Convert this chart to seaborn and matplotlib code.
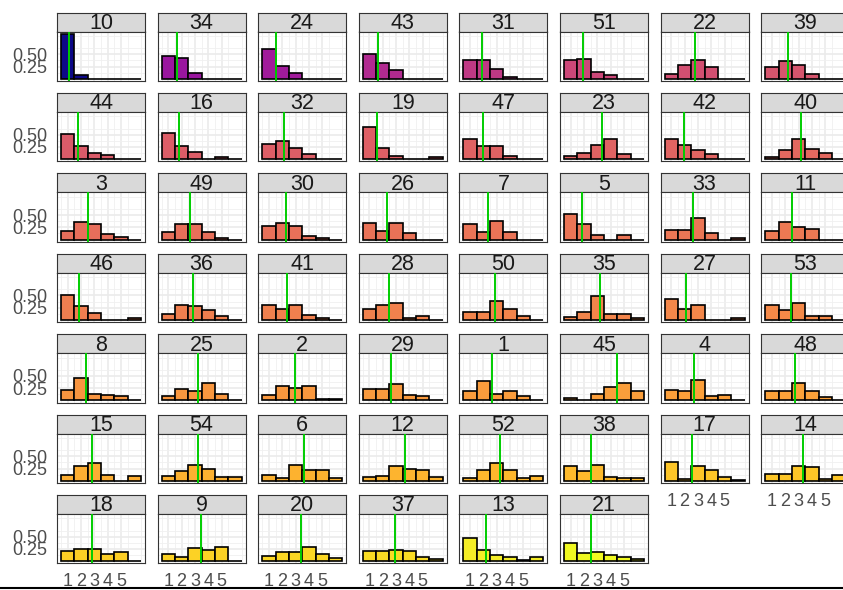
import numpy as np
import pandas as pd
import matplotlib
matplotlib.use("Agg")
import matplotlib.pyplot as plt
from matplotlib.lines import Line2D
import seaborn as sns

# Response levels and axis ticks
levels = [1, 2, 3, 4, 5, 6]
x_ticks = [1, 2, 3, 4, 5]
y_ticks = [0.25, 0.50]
y_tick_labels = ["0.25", "0.50"]

# Facet labels in display order
groups = [
    "10", "34", "24", "43", "31", "51", "22", "39",
    "44", "16", "32", "19", "47", "23", "42", "40",
    "3", "49", "30", "26", "7", "5", "33", "11",
    "46", "36", "41", "28", "50", "35", "27", "53",
    "8", "25", "2", "29", "1", "45", "4", "48",
    "15", "54", "6", "12", "52", "38", "17", "14",
    "18", "9", "20", "37", "13", "21",
]

# Share of responses at each level, per group
shares = [
    [0.92, 0.08, 0.00, 0.00, 0.00, 0.00],
    [0.46, 0.43, 0.11, 0.00, 0.00, 0.00],
    [0.61, 0.27, 0.12, 0.00, 0.00, 0.00],
    [0.50, 0.33, 0.17, 0.00, 0.00, 0.00],
    [0.39, 0.38, 0.19, 0.04, 0.00, 0.00],
    [0.38, 0.41, 0.13, 0.08, 0.00, 0.00],
    [0.09, 0.29, 0.38, 0.24, 0.00, 0.00],
    [0.25, 0.37, 0.29, 0.09, 0.00, 0.00],

    [0.52, 0.26, 0.13, 0.09, 0.00, 0.00],
    [0.53, 0.27, 0.15, 0.00, 0.05, 0.00],
    [0.30, 0.38, 0.22, 0.10, 0.00, 0.00],
    [0.66, 0.23, 0.07, 0.00, 0.00, 0.04],
    [0.41, 0.26, 0.26, 0.07, 0.00, 0.00],
    [0.06, 0.13, 0.29, 0.42, 0.10, 0.00],
    [0.42, 0.29, 0.19, 0.10, 0.00, 0.00],
    [0.05, 0.18, 0.42, 0.21, 0.13, 0.01],

    [0.18, 0.35, 0.31, 0.11, 0.05, 0.00],
    [0.16, 0.32, 0.32, 0.16, 0.04, 0.00],
    [0.27, 0.34, 0.27, 0.08, 0.04, 0.00],
    [0.34, 0.18, 0.34, 0.14, 0.00, 0.00],
    [0.32, 0.16, 0.37, 0.15, 0.00, 0.00],
    [0.52, 0.31, 0.085, 0.00, 0.085, 0.00],
    [0.19, 0.19, 0.45, 0.14, 0.00, 0.03],
    [0.18, 0.36, 0.25, 0.21, 0.00, 0.00],

    [0.51, 0.29, 0.15, 0.00, 0.00, 0.05],
    [0.12, 0.31, 0.28, 0.21, 0.08, 0.00],
    [0.31, 0.22, 0.31, 0.11, 0.05, 0.00],
    [0.22, 0.30, 0.34, 0.05, 0.09, 0.00],
    [0.16, 0.16, 0.38, 0.22, 0.08, 0.00],
    [0.07, 0.16, 0.49, 0.12, 0.12, 0.04],
    [0.42, 0.22, 0.31, 0.00, 0.00, 0.05],
    [0.30, 0.21, 0.34, 0.075, 0.075, 0.00],

    [0.21, 0.46, 0.14, 0.10, 0.08, 0.01],
    [0.08, 0.24, 0.20, 0.35, 0.13, 0.00],
    [0.10, 0.29, 0.25, 0.29, 0.035, 0.035],
    [0.23, 0.23, 0.34, 0.115, 0.085, 0.00],
    [0.19, 0.39, 0.14, 0.19, 0.08, 0.01],
    [0.05, 0.00, 0.14, 0.27, 0.35, 0.19],
    [0.21, 0.19, 0.42, 0.08, 0.10, 0.00],
    [0.19, 0.19, 0.36, 0.19, 0.06, 0.01],

    [0.12, 0.31, 0.37, 0.11, 0.00, 0.09],
    [0.09, 0.20, 0.32, 0.25, 0.07, 0.07],
    [0.11, 0.05, 0.32, 0.23, 0.23, 0.06],
    [0.07, 0.10, 0.31, 0.24, 0.21, 0.07],
    [0.06, 0.21, 0.36, 0.22, 0.06, 0.09],
    [0.30, 0.20, 0.33, 0.07, 0.05, 0.05],
    [0.38, 0.03, 0.30, 0.21, 0.07, 0.01],
    [0.13, 0.13, 0.31, 0.28, 0.04, 0.11],

    [0.20, 0.24, 0.24, 0.14, 0.18, 0.00],
    [0.15, 0.08, 0.26, 0.22, 0.29, 0.00],
    [0.11, 0.19, 0.19, 0.29, 0.15, 0.07],
    [0.21, 0.21, 0.23, 0.21, 0.09, 0.05],
    [0.47, 0.22, 0.12, 0.08, 0.03, 0.08],
    [0.38, 0.17, 0.19, 0.12, 0.09, 0.05],
]

# Colour score of each group (position on the plasma scale)
score = [
    0.00, 0.33, 0.35, 0.40, 0.45, 0.50, 0.53, 0.55,
    0.57, 0.575, 0.58, 0.585, 0.59, 0.595, 0.60, 0.61,
    0.63, 0.635, 0.64, 0.645, 0.65, 0.655, 0.66, 0.665,
    0.68, 0.685, 0.69, 0.695, 0.70, 0.705, 0.71, 0.715,
    0.75, 0.755, 0.76, 0.765, 0.77, 0.775, 0.78, 0.785,
    0.82, 0.825, 0.83, 0.835, 0.84, 0.85, 0.875, 0.88,
    0.90, 0.91, 0.92, 0.93, 0.97, 1.00,
]

df = pd.DataFrame(
    [(g, lv, s) for g, row in zip(groups, shares) for lv, s in zip(levels, row)],
    columns=["group", "response", "share"],
)

sns.set_theme(style="white")
plt.rcParams["font.family"] = ["Liberation Sans", "DejaVu Sans"]

W, H = 843, 590
fig = plt.figure(figsize=(W / 100, H / 100), dpi=100)
cmap = plt.get_cmap("plasma")

ncol = 8
left0, col_step, panel_w = 57.0, 100.6, 88.0
top0, row_step, strip_h, panel_h = 12.5, 80.4, 19.0, 49.5

ymax = df["share"].max()
ylim = (-0.05 * ymax, 1.05 * ymax)
n = len(groups)
nrow = int(np.ceil(n / ncol))

def fig_rect(x, y, w, h):
    return [x / W, 1 - (y + h) / H, w / W, h / H]

for i, g in enumerate(groups):
    r, c = divmod(i, ncol)
    x0 = left0 + c * col_step
    y0 = top0 + r * row_step

    # strip
    sax = fig.add_axes(fig_rect(x0, y0, panel_w, strip_h))
    sax.set_facecolor("#D9D9D9")
    sax.set_xticks([]); sax.set_yticks([])
    for sp in sax.spines.values():
        sp.set_color("#333333"); sp.set_linewidth(0.8)
    sax.text(0.5, 0.42, g, ha="center", va="center", fontsize=15.5,
             color="#1A1A1A", transform=sax.transAxes)

    # panel
    ax = fig.add_axes(fig_rect(x0, y0 + strip_h, panel_w, panel_h))
    ax.set_facecolor("white")
    ax.set_axisbelow(True)
    sub = df[df["group"] == g]
    sns.histplot(data=sub, x="response", weights="share", discrete=True,
                 color=cmap(score[i]), edgecolor="black", linewidth=1.2,
                 alpha=1.0, ax=ax, zorder=2)
    mean = np.average(sub["response"], weights=sub["share"])
    ax.axvline(mean, color="#00CD00", lw=1.4, zorder=3)

    ax.set_xlim(0.2, 6.8)
    ax.set_ylim(*ylim)
    ax.set_xticks(x_ticks)
    ax.set_xticks([0.5, 1.5, 2.5, 3.5, 4.5, 5.5, 6.5], minor=True)
    ax.set_yticks(y_ticks)
    ax.set_yticks([0.125, 0.375, 0.625, 0.875], minor=True)
    ax.grid(which="major", color="#EBEBEB", lw=1.2)
    ax.grid(which="minor", color="#F0F0F0", lw=0.6)
    ax.tick_params(which="minor", length=0)
    ax.set_xlabel(""); ax.set_ylabel("")
    for sp in ax.spines.values():
        sp.set_color("#333333"); sp.set_linewidth(0.8)

    show_x = (r == nrow - 1) or (i + ncol >= n)
    if show_x:
        ax.set_xticklabels([str(t) for t in x_ticks])
        ax.tick_params(axis="x", which="major", length=4, width=0.8,
                       color="#333333", labelsize=13, labelcolor="#4D4D4D", pad=3)
    else:
        ax.tick_params(axis="x", which="major", length=0, labelbottom=False)

    if c == 0:
        ax.set_yticklabels(y_tick_labels)
        ax.tick_params(axis="y", which="major", length=4, width=0.8,
                       color="#333333", labelsize=13, labelcolor="#4D4D4D", pad=3)
    else:
        ax.tick_params(axis="y", which="major", length=0, labelleft=False)

fig.add_artist(Line2D([0, 1], [1.7 / H, 1.7 / H], transform=fig.transFigure,
                      color="black", lw=1.5))

fig.savefig("out.png", dpi=100)
